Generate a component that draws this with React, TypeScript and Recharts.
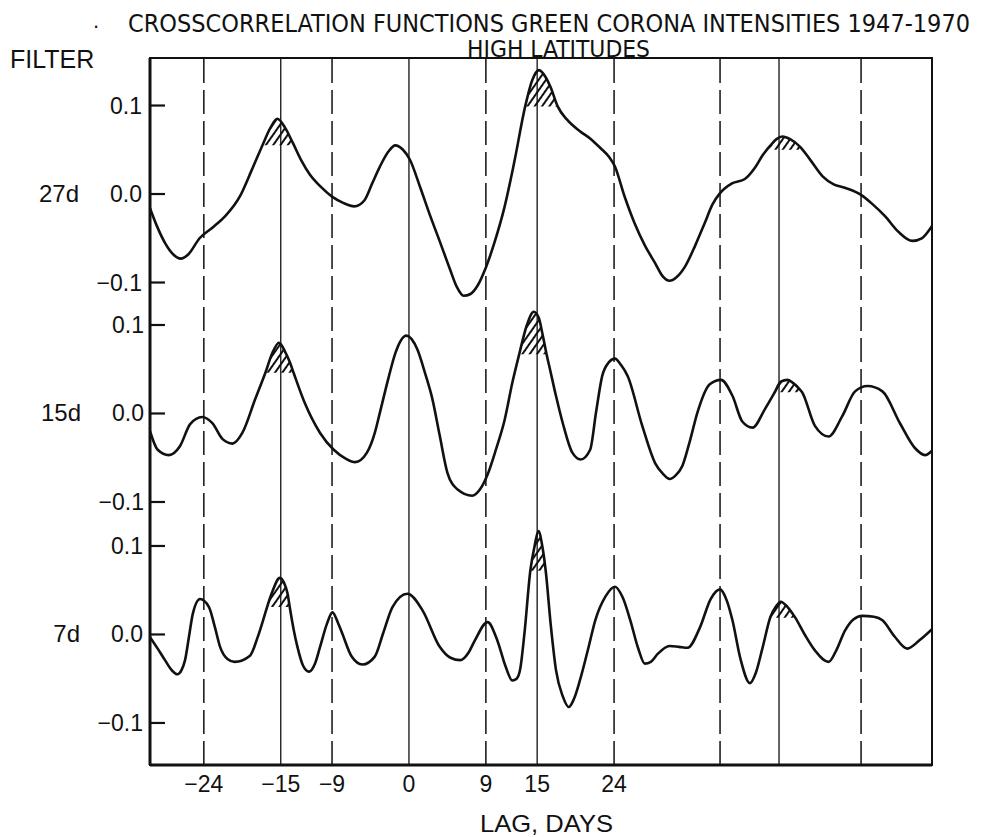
import React from 'react';
import {
  Area,
  ComposedChart,
  Line,
  ReferenceArea,
  ReferenceLine,
  XAxis,
  YAxis,
} from 'recharts';

// lag (days) and correlation values, one pair of arrays per filter
const lags27 = [
  -30.3, -29.5, -28.5, -27.6, -26.7, -25.8, -24.5, -23.0, -21.5, -19.8, -18.4, -17.1, -16.2, -15.4,
  -14.5, -13.6, -12.6, -11.6, -10.3, -9.0, -7.7, -6.4, -5.2, -4.3, -3.4, -2.4, -1.6, -0.7, 0.1, 1.3,
  2.5, 3.7, 4.8, 5.6, 6.4, 7.2, 8.0, 9.0, 10.0, 11.2, 12.3, 13.6, 14.4, 15.2, 16.0, 16.6, 17.4, 18.5,
  20.0, 21.3, 22.4, 23.4, 24.1, 25.2, 26.4, 27.6, 28.8, 29.7, 30.5, 31.3, 32.3, 33.5, 34.6, 35.5,
  36.4, 37.8, 39.3, 40.5, 41.4, 42.3, 43.0, 43.7, 44.6, 45.8, 47.0, 48.4, 49.7, 51.0, 52.9, 54.3,
  55.7, 57.3, 58.9, 60.0, 61.2,
];
const values27 = [
  -0.016, -0.036, -0.056, -0.068, -0.073, -0.068, -0.05, -0.038, -0.025, -0.003, 0.027, 0.056, 0.075,
  0.085, 0.075, 0.058, 0.038, 0.022, 0.008, -0.003, -0.01, -0.014, -0.007, 0.012, 0.031, 0.048, 0.055,
  0.05, 0.039, 0.008, -0.025, -0.056, -0.085, -0.105, -0.115, -0.113, -0.104, -0.083, -0.055, -0.014,
  0.035, 0.099, 0.128, 0.14, 0.132, 0.12, 0.099, 0.084, 0.071, 0.062, 0.052, 0.042, 0.031, -0.002,
  -0.033, -0.058, -0.078, -0.093, -0.098, -0.094, -0.082, -0.058, -0.033, -0.012, 0.001, 0.012, 0.017,
  0.03, 0.044, 0.055, 0.062, 0.065, 0.062, 0.053, 0.038, 0.02, 0.011, 0.007, -0.001, -0.012, -0.025,
  -0.043, -0.053, -0.05, -0.036,
];

const lags15 = [
  -30.3, -29.4, -28.1, -26.8, -25.6, -24.2, -23.0, -21.8, -20.65, -19.5, -18.0, -16.8, -16.0, -15.2,
  -14.5, -13.9, -13.5, -12.2, -10.4, -8.8, -7.4, -6.3, -4.9, -4.0, -3.4, -2.4, -1.6, -0.3, 1.0, 1.9,
  2.75, 3.6, 4.5, 5.7, 7.4, 8.3, 9.2, 10.2, 11.2, 12.1, 12.9, 13.8, 14.6, 15.2, 15.6, 16.1, 16.5,
  17.2, 18.0, 19.1, 20.1, 21.2, 21.9, 22.6, 23.4, 24.1, 24.8, 25.6, 27.3, 28.8, 29.7, 30.5, 31.2,
  32.0, 32.9, 33.75, 35.2, 36.5, 37.85, 39.0, 40.2, 41.65, 42.8, 43.5, 44.3, 45.0, 45.75, 46.0, 47.5,
  49.1, 50.7, 52.2, 53.65, 55.4, 57.45, 59.2, 60.4, 61.2,
];
const values15 = [
  -0.02, -0.041, -0.047, -0.037, -0.012, -0.004, -0.011, -0.029, -0.034, -0.022, 0.016, 0.046, 0.068,
  0.08, 0.07, 0.057, 0.046, 0.012, -0.022, -0.041, -0.051, -0.055, -0.044, -0.022, 0.001, 0.04, 0.068,
  0.088, 0.072, 0.045, 0.016, -0.025, -0.067, -0.086, -0.093, -0.086, -0.069, -0.04, -0.007, 0.035,
  0.067, 0.1, 0.115, 0.108, 0.091, 0.067, 0.05, 0.02, -0.011, -0.044, -0.052, -0.041, 0.002, 0.042,
  0.058, 0.062, 0.055, 0.042, -0.014, -0.056, -0.068, -0.074, -0.07, -0.059, -0.03, 0.001, 0.033,
  0.038, 0.02, -0.009, -0.016, 0.005, 0.024, 0.036, 0.038, 0.034, 0.027, 0.024, -0.014, -0.026,
  -0.003, 0.025, 0.031, 0.025, -0.011, -0.039, -0.047, -0.042,
];

const lags7 = [
  -30.3, -29.4, -28.55, -27.7, -27.1, -26.6, -26.2, -25.7, -25.3, -24.45, -23.4, -22.7, -22.1, -21.2,
  -20.4, -18.6, -17.7, -16.85, -16.6, -16.0, -15.1, -14.6, -14.2, -13.95, -13.5, -13.05, -12.4,
  -11.7, -11.0, -10.4, -9.6, -8.95, -8.3, -7.8, -6.7, -5.45, -4.0, -3.0, -1.93, -0.18, 1.6, 3.6, 4.8,
  6.0, 7.0, 7.7, 9.2, 10.35, 11.3, 12.1, 12.6, 13.0, 13.5, 14.2, 14.7, 15.15, 15.6, 16.0, 16.6, 17.2,
  18.0, 18.7, 19.3, 20.0, 21.0, 21.8, 23.0, 24.1, 25.0, 25.9, 26.8, 27.6, 28.3, 29.1, 30.5, 31.6,
  32.6, 34.05, 35.3, 36.4, 37.2, 37.85, 38.8, 39.9, 40.6, 41.4, 42.3, 42.9, 43.5, 44.3, 45.2, 46.3,
  47.5, 49.1, 50.0, 51.0, 52.0, 53.05, 54.4, 55.4, 56.8, 58.3, 59.8, 61.2,
];
const values7 = [
  -0.003, -0.016, -0.029, -0.041, -0.045, -0.04, -0.029, 0.0, 0.023, 0.04, 0.031, 0.008, -0.014,
  -0.028, -0.031, -0.024, -0.003, 0.023, 0.031, 0.048, 0.064, 0.058, 0.046, 0.031, 0.006, -0.014,
  -0.035, -0.042, -0.033, -0.014, 0.012, 0.025, 0.013, 0.001, -0.025, -0.034, -0.025, 0.002, 0.031,
  0.046, 0.027, -0.014, -0.026, -0.029, -0.02, -0.007, 0.014, -0.007, -0.036, -0.052, -0.05, -0.04,
  0.0, 0.072, 0.1, 0.117, 0.1, 0.072, 0.01, -0.04, -0.07, -0.082, -0.073, -0.052, -0.015, 0.016,
  0.043, 0.054, 0.042, 0.016, -0.015, -0.033, -0.031, -0.022, -0.013, -0.014, -0.015, 0.008, 0.04,
  0.051, 0.038, 0.016, -0.028, -0.055, -0.043, -0.014, 0.02, 0.031, 0.037, 0.031, 0.019, 0.0, -0.018,
  -0.031, -0.018, 0.004, 0.017, 0.021, 0.02, 0.016, -0.002, -0.016, -0.006, 0.006,
];

// hatched peaks: lag window and the level the hatching starts from
const hatch27 = [
  { from: -17.1, to: -13.6, cut: 0.055 },
  { from: 13.6, to: 17.4, cut: 0.099 },
  { from: 42.3, to: 45.8, cut: 0.05 },
];
const hatch15 = [
  { from: -16.8, to: -13.5, cut: 0.046 },
  { from: 12.9, to: 16.1, cut: 0.067 },
  { from: 42.8, to: 46.0, cut: 0.024 },
];
const hatch7 = [
  { from: -16.6, to: -13.95, cut: 0.031 },
  { from: 14.2, to: 16.0, cut: 0.072 },
  { from: 42.3, to: 45.2, cut: 0.019 },
];

const lagTicks = [-24, -15, -9, 0, 9, 15, 24];
const solidLags = [-15, 0, 15, 43.3];
const dashedLags = [-24, -9, 9, 24, 36.4, 52.9];
const valueTicks = [-0.1, 0, 0.1];
const filterNames = ['27d', '15d', '7d'];

const FONT = '"Liberation Sans", Arial, sans-serif';
const NARROW = '"Liberation Sans Narrow", "DejaVu Sans Condensed", "Liberation Sans", sans-serif';
const INK = '#111';
const LAG_DOMAIN: [number, number] = [-30.3, 61.2];

const W = 981;
const H = 837;
const MARGIN = { top: 58, right: 49, bottom: 42, left: 147 };
const X_AXIS_H = 30;
const PLOT_LEFT = MARGIN.left + 3; // three 1px y axes
const PLOT_TOP = MARGIN.top;
const PLOT_H = H - MARGIN.top - MARGIN.bottom - X_AXIS_H;

type Point = { lag: number; v: number };

function toPoints(lags: number[], values: number[]): Point[] {
  return lags.map((lag, i) => ({ lag, v: values[i] }));
}

function hatchData(points: Point[], w: { from: number; to: number; cut: number }) {
  return points
    .filter((p) => p.lag >= w.from - 1e-6 && p.lag <= w.to + 1e-6)
    .map((p) => ({ lag: p.lag, band: [w.cut, Math.max(w.cut, p.v)] }));
}

// each panel gets its own y axis; domains place the three strips one under the other
const panels = [
  { id: 'p27', name: filterNames[0], points: toPoints(lags27, values27), hatch: hatch27, domain: [-0.6452, 0.1537] },
  { id: 'p15', name: filterNames[1], points: toPoints(lags15, values15), hatch: hatch15, domain: [-0.3972, 0.4017] },
  { id: 'p7', name: filterNames[2], points: toPoints(lags7, values7), hatch: hatch7, domain: [-0.1475, 0.6514] },
];

// same linear mapping the y axes use, for the inward tick stubs on the overlay
function panelY(domain: number[], v: number) {
  return PLOT_TOP + ((domain[1] - v) / (domain[1] - domain[0])) * PLOT_H;
}

function fmtValue(v: number) {
  if (v === 0) return '0.0';
  return v < 0 ? `\u2212${Math.abs(v).toFixed(1)}` : v.toFixed(1);
}

function fmtLag(v: number) {
  return v < 0 ? `\u2212${Math.abs(v)}` : `${v}`;
}

// the three y axes are 1px wide each and stack left of the plot, so shift back by index
function makeValueTick(name: string, shift: number) {
  return function ValueTick(props: any) {
    const y = Number(props.y);
    const x = Number(props.x) + shift;
    const v = props.payload.value as number;
    return (
      <g>
        <text x={x - 7} y={y + 8} textAnchor="end" fontSize={23} fontFamily={FONT} fill={INK} stroke="none">
          {fmtValue(v)}
        </text>
        {v === 0 && (
          <text x={x - 70} y={y + 8} textAnchor="end" fontSize={24} fontFamily={FONT} fill={INK} stroke="none">
            {name}
          </text>
        )}
      </g>
    );
  };
}

function LagTick(props: any) {
  const { x, y, payload } = props;
  return (
    <text x={x} y={y + 27} textAnchor="middle" fontSize={23} fontFamily={FONT} fill={INK}>
      {fmtLag(payload.value)}
    </text>
  );
}

export default function App() {
  return (
    <div style={{ position: 'fixed', left: 0, top: 0, width: W, height: H, background: '#fff' }}>
      <svg width={0} height={0} style={{ position: 'absolute' }}>
        <defs>
          <pattern id="hatch" width={6} height={6} patternUnits="userSpaceOnUse" patternTransform="rotate(35)">
            <line x1={1} y1={0} x2={1} y2={6} stroke={INK} strokeWidth={2} />
          </pattern>
        </defs>
      </svg>
      <ComposedChart width={W} height={H} margin={MARGIN}>
        <XAxis
          dataKey="lag"
          type="number"
          domain={LAG_DOMAIN}
          allowDataOverflow
          ticks={lagTicks}
          interval={0}
          height={X_AXIS_H}
          tickSize={0}
          tickMargin={0}
          tickLine={false}
          axisLine={{ stroke: INK, strokeWidth: 3 }}
          tick={LagTick}
        />
        {panels.map((p, i) => (
          <YAxis
            key={p.id}
            yAxisId={p.id}
            type="number"
            domain={p.domain}
            allowDataOverflow
            ticks={valueTicks}
            interval={0}
            width={1}
            tickSize={0}
            tickMargin={0}
            tickLine={false}
            axisLine={false}
            tick={makeValueTick(p.name, i)}
          />
        ))}
        <ReferenceArea
          yAxisId="p27"
          x1={LAG_DOMAIN[0]}
          x2={LAG_DOMAIN[1]}
          y1={panels[0].domain[0]}
          y2={panels[0].domain[1]}
          fill="none"
          stroke={INK}
          strokeWidth={2}
          ifOverflow="visible"
        />
        <ReferenceLine yAxisId="p27" x={LAG_DOMAIN[0]} stroke={INK} strokeWidth={3} ifOverflow="visible" />
        {solidLags.map((lag) => (
          <ReferenceLine key={`s${lag}`} yAxisId="p27" x={lag} stroke={INK} strokeWidth={1.3} />
        ))}
        {dashedLags.map((lag) => (
          <ReferenceLine
            key={`d${lag}`}
            yAxisId="p27"
            x={lag}
            stroke={INK}
            strokeWidth={1.5}
            strokeDasharray="24 7"
          />
        ))}
        {panels.flatMap((p) =>
          p.hatch.map((w, j) => (
            <Area
              key={`${p.id}h${j}`}
              yAxisId={p.id}
              data={hatchData(p.points, w)}
              dataKey="band"
              type="monotone"
              stroke="none"
              fill="url(#hatch)"
              fillOpacity={1}
              isAnimationActive={false}
            />
          )),
        )}
        {panels.map((p) => (
          <Line
            key={p.id}
            yAxisId={p.id}
            data={p.points}
            dataKey="v"
            type="monotone"
            stroke={INK}
            strokeWidth={2.6}
            dot={false}
            activeDot={false}
            isAnimationActive={false}
          />
        ))}
      </ComposedChart>
      <svg
        width={W}
        height={H}
        style={{ position: 'absolute', left: 0, top: 0, pointerEvents: 'none' }}
        fill={INK}
      >
        {panels.flatMap((p) =>
          valueTicks.map((v) => {
            const y = panelY(p.domain, v);
            return (
              <line
                key={`${p.id}t${v}`}
                x1={PLOT_LEFT}
                x2={PLOT_LEFT + 15}
                y1={y}
                y2={y}
                stroke={INK}
                strokeWidth={2.2}
              />
            );
          }),
        )}
        <text x={93} y={28} fontSize={22} fontFamily={FONT}>.</text>
        <text x={128} y={32} fontSize={25} fontFamily={NARROW} textLength={842} lengthAdjust="spacingAndGlyphs">
          CROSSCORRELATION FUNCTIONS GREEN CORONA INTENSITIES 1947-1970
        </text>
        <text x={467} y={57} fontSize={23} fontFamily={NARROW} textLength={183} lengthAdjust="spacingAndGlyphs">
          HIGH LATITUDES
        </text>
        <text x={10} y={68} fontSize={25} fontFamily={FONT}>FILTER</text>
        <text x={480} y={832} fontSize={24} fontFamily={FONT} textLength={133} lengthAdjust="spacingAndGlyphs">
          LAG, DAYS
        </text>
      </svg>
    </div>
  );
}
